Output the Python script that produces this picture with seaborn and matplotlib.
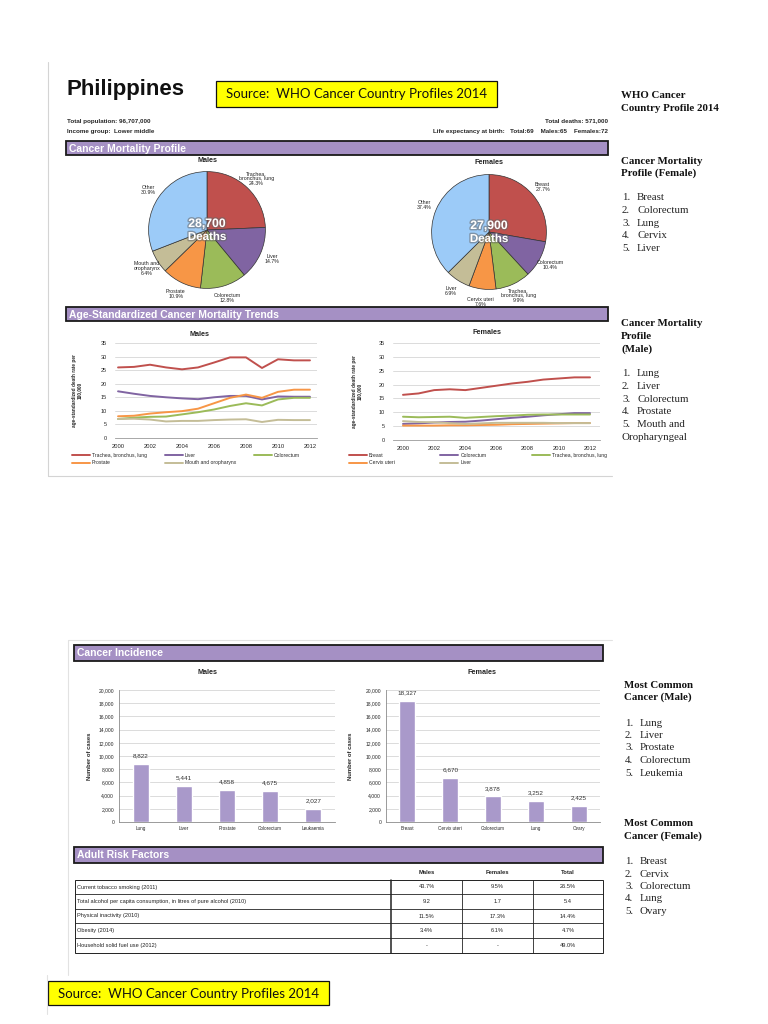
import numpy as np
import pandas as pd
import matplotlib
matplotlib.use("Agg")
import matplotlib.pyplot as plt
import matplotlib.patheffects as pe
from matplotlib.patches import Rectangle
from matplotlib.ticker import FuncFormatter, MultipleLocator
import seaborn as sns

# ---------------- data ----------------
country = "Philippines"
source_text = "Source:  WHO Cancer Country Profiles 2014"

male_pie_labels = ["Trachea,\nbronchus, lung", "Liver", "Colorectum", "Prostate",
                   "Mouth and\noropharynx", "Other"]
male_pie_values = [24.3, 14.7, 12.8, 10.9, 6.4, 30.9]
female_pie_labels = ["Breast", "Colorectum", "Trachea,\nbronchus, lung", "Cervix uteri",
                     "Liver", "Other"]
female_pie_values = [27.7, 10.4, 9.9, 7.6, 6.9, 37.4]
male_deaths = "28,700"
female_deaths = "27,900"

years = [2000, 2001, 2002, 2003, 2004, 2005, 2006, 2007, 2008, 2009, 2010, 2011, 2012]
male_trend_names = ["Trachea, bronchus, lung", "Liver", "Colorectum", "Prostate",
                    "Mouth and oropharynx"]
m_lung = [26.0, 26.2, 27.0, 26.0, 25.3, 26.0, 27.8, 29.7, 29.7, 25.8, 29.0, 28.6, 28.6]
m_liver = [17.2, 16.3, 15.5, 15.0, 14.6, 14.3, 15.0, 15.5, 15.5, 14.2, 15.3, 15.2, 15.2]
m_colorectum = [7.0, 7.5, 7.8, 7.9, 8.7, 9.5, 10.5, 11.8, 12.8, 12.0, 14.2, 14.8, 14.8]
m_prostate = [8.0, 8.2, 9.0, 9.5, 9.9, 10.8, 12.8, 14.8, 16.0, 14.8, 17.0, 17.8, 17.8]
m_mouth = [7.0, 7.1, 6.8, 6.1, 6.3, 6.3, 6.6, 6.8, 6.9, 5.9, 6.7, 6.6, 6.6]

female_trend_names = ["Breast", "Colorectum", "Trachea, bronchus, lung", "Cervix uteri", "Liver"]
f_breast = [16.3, 16.8, 18.0, 18.3, 18.0, 18.8, 19.6, 20.4, 21.0, 21.8, 22.2, 22.6, 22.6]
f_colorectum = [5.8, 6.0, 6.3, 6.5, 6.6, 7.0, 7.5, 8.0, 8.4, 8.9, 9.3, 9.7, 9.7]
f_lung = [8.4, 8.2, 8.3, 8.4, 8.0, 8.3, 8.6, 8.8, 9.1, 9.2, 9.2, 9.2, 9.2]
f_cervix = [5.2, 5.2, 5.2, 5.3, 5.3, 5.4, 5.5, 5.7, 5.8, 5.9, 6.0, 6.1, 6.1]
f_liver = [6.8, 6.5, 6.4, 6.1, 5.8, 6.0, 6.2, 6.2, 6.2, 6.2, 6.1, 6.1, 6.1]

male_inc_cats = ["Lung", "Liver", "Prostate", "Colorectum", "Leukaemia"]
male_inc_vals = [8822, 5441, 4858, 4675, 2027]
female_inc_cats = ["Breast", "Cervix uteri", "Colorectum", "Lung", "Ovary"]
female_inc_vals = [18327, 6670, 3878, 3252, 2425]

risk_header = ["Males", "Females", "Total"]
risk_rows = ["Current tobacco smoking (2011)",
             "Total alcohol per capita consumption, in litres of pure alcohol (2010)",
             "Physical inactivity (2010)", "Obesity (2014)", "Household solid fuel use (2012)"]
risk_males = ["43.7%", "9.2", "11.5%", "3.4%", "-"]
risk_females = ["9.5%", "1.7", "17.3%", "6.1%", "-"]
risk_total = ["26.5%", "5.4", "14.4%", "4.7%", "49.0%"]

side_mort_female = ["Breast", "Colorectum", "Lung", "Cervix", "Liver"]
side_mort_male = ["Lung", "Liver", "Colorectum", "Prostate", "Mouth and"]
side_inc_male = ["Lung", "Liver", "Prostate", "Colorectum", "Leukemia"]
side_inc_female = ["Breast", "Cervix", "Colorectum", "Lung", "Ovary"]

# ---------------- style ----------------
sns.set_style("white")
plt.rcParams["font.family"] = ["Liberation Sans", "DejaVu Sans"]

RED, PURPLE, GREEN, ORANGE, TAN, LBLUE = "#c0504d", "#8064a2", "#9bbb59", "#f79646", "#c4bd97", "#9ccbf8"
PIE_COLORS = [RED, PURPLE, GREEN, ORANGE, TAN, LBLUE]
BAND = "#a590c4"
BAR = "#a999ca"
GRID = "#d6d6d6"
SERIF = ["Liberation Serif", "DejaVu Serif"]

W, H = 768, 1024
fig = plt.figure(figsize=(W / 100, H / 100), dpi=100)
canvas = fig.add_axes([0, 0, 1, 1])
canvas.set_xlim(0, W)
canvas.set_ylim(H, 0)
canvas.axis("off")


def px_axes(x0, y0, x1, y1):
    ax = fig.add_axes([x0 / W, 1 - y1 / H, (x1 - x0) / W, (y1 - y0) / H])
    ax.set_facecolor("none")
    return ax


def fig_box(x0, y0, x1, y1):
    return (x0 / W, 1 - y1 / H, (x1 - x0) / W, (y1 - y0) / H)


def band(x0, y0, x1, y1, title):
    canvas.add_patch(Rectangle((x0, y0), x1 - x0, y1 - y0, facecolor=BAND,
                               edgecolor="#1a1a1a", lw=1.3))
    canvas.text(x0 + 3, (y0 + y1) / 2 + 0.5, title, color="white", fontweight="bold",
                fontsize=7.5, va="center", ha="left")


def yellow_box(x0, y0, x1, y1):
    canvas.add_patch(Rectangle((x0, y0), x1 - x0, y1 - y0, facecolor="#ffff00",
                               edgecolor="#111111", lw=0.9))
    canvas.text((x0 + x1) / 2, (y0 + y1) / 2 + 0.5, source_text, fontsize=9.5,
                family=["Lato", "DejaVu Sans"], ha="center", va="center", color="#111111")


# panel frames (light gray)
canvas.plot([48, 48], [62, 476], color="#d4d4d4", lw=0.8)
canvas.plot([48, 612], [476, 476], color="#d4d4d4", lw=0.8)
canvas.plot([68, 612], [640, 640], color="#e2e2e2", lw=0.8)
canvas.plot([68, 68], [640, 975], color="#e2e2e2", lw=0.8)
canvas.plot([47, 47], [975, 1014], color="#e2e2e2", lw=0.8)

# ---------------- header ----------------
canvas.text(67, 89, country, fontsize=16, fontweight="bold", ha="left", va="center", color="#111111")
yellow_box(216, 81, 497, 107)
canvas.text(67, 121, "Total population: 96,707,000", fontsize=4.5, fontweight="bold", va="center")
canvas.text(67, 132, "Income group:  Lower middle", fontsize=4.5, fontweight="bold", va="center")
canvas.text(608, 121, "Total deaths: 571,000", fontsize=4.5, fontweight="bold", va="center", ha="right")
canvas.text(608, 132, "Life expectancy at birth:   Total:69    Males:65    Females:72",
            fontsize=4.5, fontweight="bold", va="center", ha="right")

band(66, 141, 608, 155, "Cancer Mortality Profile")
band(66, 307, 608, 321, "Age-Standardized Cancer Mortality Trends")
band(74, 645, 603, 661, "Cancer Incidence")
band(74, 847, 603, 863, "Adult Risk Factors")


# ---------------- pies ----------------
def pie(cx, cy, r, labels, values, title, deaths):
    ax = px_axes(cx - r, cy - r, cx + r, cy + r)
    full = [f"{l}\n{v}%" for l, v in zip(labels, values)]
    ax.pie(values, labels=full, colors=PIE_COLORS, startangle=90, counterclock=False,
           labeldistance=1.22, radius=1,
           wedgeprops=dict(edgecolor="#333333", linewidth=0.5),
           textprops=dict(fontsize=3.8, ha="center", va="center", linespacing=1.0, color="#222222"))
    ax.set_xlim(-1.01, 1.01)
    ax.set_ylim(-1.01, 1.01)
    ax.set_aspect("equal")
    canvas.text(cx, cy - 69, title, fontsize=5.2, fontweight="bold", ha="center", va="center")
    eff = [pe.withStroke(linewidth=2.0, foreground="#666666", alpha=0.55)]
    fig.text(cx / W, 1 - (cy - 6) / H, deaths, fontsize=8.8, fontweight="bold", color="white",
             ha="center", va="center", path_effects=eff, zorder=10)
    fig.text(cx / W, 1 - (cy + 7) / H, "Deaths", fontsize=8.3, fontweight="bold", color="white",
             ha="center", va="center", path_effects=eff, zorder=10)


pie(207, 230, 59, male_pie_labels, male_pie_values, "Males", male_deaths)
pie(489, 232, 58, female_pie_labels, female_pie_values, "Females", female_deaths)


# ---------------- trends ----------------
def trend(box, xlim, names, series, colors, title, title_xy, ylab_x, leg_box):
    ax = px_axes(*box)
    df = pd.DataFrame({
        "year": years * len(names),
        "rate": [v for s in series for v in s],
        "cause": [n for n in names for _ in years],
    })
    sns.lineplot(data=df, x="year", y="rate", hue="cause", hue_order=names,
                 palette=dict(zip(names, colors)), ax=ax, linewidth=1.4, legend=True)
    handles, labels = ax.get_legend_handles_labels()
    ax.get_legend().remove()
    ax.set_xlim(*xlim)
    ax.set_ylim(0, 35)
    ax.yaxis.set_major_locator(MultipleLocator(5))
    ax.set_xticks(years[::2])
    ax.grid(axis="y", color=GRID, lw=0.6)
    ax.grid(axis="x", visible=False)
    for s in ["left", "top", "right"]:
        ax.spines[s].set_visible(False)
    ax.spines["bottom"].set_color("#9a9a9a")
    ax.spines["bottom"].set_linewidth(0.6)
    ax.tick_params(axis="x", length=2, width=0.5, color="#9a9a9a", labelsize=4.2, pad=2.5)
    ax.tick_params(axis="y", length=0, labelsize=4.0, pad=6)
    ax.set_xlabel("")
    ax.set_ylabel("age-standardized death rate per\n100,000", fontsize=3.4, fontweight="bold",
                  linespacing=1.1)
    ax.yaxis.set_label_coords((ylab_x - box[0]) / (box[2] - box[0]), 0.5)
    canvas.text(title_xy[0], title_xy[1], title, fontsize=5.2, fontweight="bold", ha="center", va="center")
    order = [0, 3, 1, 4, 2]
    ax.legend([handles[i] for i in order], [labels[i] for i in order], ncol=3, mode="expand",
              bbox_to_anchor=fig_box(*leg_box), bbox_transform=fig.transFigure, loc="center",
              frameon=False, fontsize=3.6, handlelength=3.6, handletextpad=0.4,
              borderaxespad=0, borderpad=0, labelspacing=0.55)
    return ax


trend((115, 343, 317, 438), (1999.81, 2012.44), male_trend_names,
      [m_lung, m_liver, m_colorectum, m_prostate, m_mouth],
      [RED, PURPLE, GREEN, ORANGE, TAN], "Males", (200, 334), 82, (72, 451, 300, 467))
trend((393, 343, 600, 440), (1999.36, 2012.64), female_trend_names,
      [f_breast, f_colorectum, f_lung, f_cervix, f_liver],
      [RED, PURPLE, GREEN, ORANGE, TAN], "Females", (487, 333), 362, (349, 451, 607, 467))


# ---------------- incidence bars ----------------
def bars(box, cats, vals, title, title_xy, ylab_x):
    ax = px_axes(*box)
    sns.barplot(x=cats, y=vals, color=BAR, saturation=1, width=0.37, ax=ax, zorder=3)
    ax.set_ylim(0, 20000)
    ax.yaxis.set_major_locator(MultipleLocator(2000))
    ax.yaxis.set_major_formatter(FuncFormatter(lambda v, p: f"{int(v):,}"))
    ax.grid(axis="y", color=GRID, lw=0.6, zorder=0)
    ax.set_axisbelow(True)
    for s in ["top", "right"]:
        ax.spines[s].set_visible(False)
    for s in ["left", "bottom"]:
        ax.spines[s].set_color("#8a8a8a")
        ax.spines[s].set_linewidth(0.6)
    ax.tick_params(axis="x", length=0, labelsize=3.3, pad=3)
    ax.tick_params(axis="y", length=2, width=0.5, color="#8a8a8a", labelsize=3.6, pad=1.5)
    ax.bar_label(ax.containers[0], labels=[f"{v:,}" for v in vals], padding=4,
                 fontsize=4.6, color="#333333")
    ax.set_ylabel("Number of cases", fontsize=4.2, fontweight="bold")
    ax.yaxis.set_label_coords((ylab_x - box[0]) / (box[2] - box[0]), 0.5)
    canvas.text(title_xy[0], title_xy[1], title, fontsize=5.2, fontweight="bold", ha="center", va="center")


bars((119, 690, 335, 822), male_inc_cats, male_inc_vals, "Males", (207, 673), 92)
bars((386, 690, 600, 822), female_inc_cats, female_inc_vals, "Females", (482, 673), 353)

# ---------------- risk table ----------------
tx = [75, 391, 462, 533, 603]
ty = [880, 894, 909, 923, 938, 953]
canvas.add_patch(Rectangle((tx[0], ty[0]), tx[-1] - tx[0], ty[-1] - ty[0], facecolor="none",
                           edgecolor="#222222", lw=0.7))
for y in ty[1:-1]:
    canvas.plot([tx[0], tx[-1]], [y, y], color="#222222", lw=0.6)
for i, x in enumerate(tx[1:-1]):
    canvas.plot([x, x], [ty[0], ty[-1]], color="#222222", lw=1.1 if i == 0 else 0.6)
for j, hdr in enumerate(risk_header):
    canvas.text((tx[j + 1] + tx[j + 2]) / 2, 873, hdr, fontsize=4.2, fontweight="bold",
                ha="center", va="center")
for i, lab in enumerate(risk_rows):
    yc = (ty[i] + ty[i + 1]) / 2
    canvas.text(tx[0] + 2, yc, lab, fontsize=4.1, ha="left", va="center", color="#222222")
    for j, col in enumerate([risk_males, risk_females, risk_total]):
        canvas.text((tx[j + 1] + tx[j + 2]) / 2, yc, col[i], fontsize=4.1, ha="center",
                    va="center", color="#222222")

yellow_box(48, 981, 329, 1005)


# ---------------- side notes ----------------
def side_heading(x, y, lines):
    for k, t in enumerate(lines):
        canvas.text(x, y + 12.5 * k, t, fontsize=7.8, fontweight="bold", family=SERIF,
                    va="center", ha="left", color="#111111")


def side_list(x, y, items, step=12.6):
    for k, t in enumerate(items):
        canvas.text(x, y + step * k, f"{k + 1}.", fontsize=7.8, family=SERIF, va="center",
                    ha="left", color="#222222")
        canvas.text(x + 15, y + step * k, t, fontsize=7.8, family=SERIF, va="center",
                    ha="left", color="#222222")


side_heading(621, 96, ["WHO Cancer", "Country Profile 2014"])
side_heading(621, 161, ["Cancer Mortality", "Profile (Female)"])
side_list(622, 198, side_mort_female)
side_heading(621, 324, ["Cancer Mortality", "Profile", "(Male)"])
side_list(622, 374, side_mort_male)
canvas.text(621, 437, "Oropharyngeal", fontsize=7.8, family=SERIF, va="center", ha="left", color="#222222")
side_heading(624, 685, ["Most Common", "Cancer (Male)"])
side_list(625, 723, side_inc_male, step=12.5)
side_heading(624, 824, ["Most Common", "Cancer (Female)"])
side_list(625, 862, side_inc_female, step=12.3)

fig.savefig("out.png", dpi=100)
